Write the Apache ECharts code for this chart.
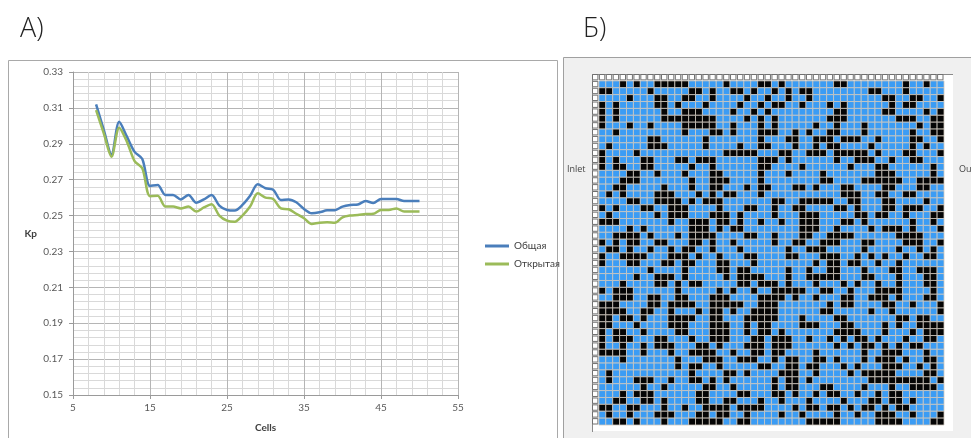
<!DOCTYPE html>
<html><head><meta charset="utf-8">
<script src="https://cdn.jsdelivr.net/npm/echarts@6/dist/echarts.min.js"></script>
<style>html,body{margin:0;padding:0;background:#fff}#c{width:971px;height:438px}</style>
</head><body><div id="c"></div><script>
// ---- Panel A data ----
const cells = [8,9,10,11,12,13,14,15,16,17,18,19,20,21,22,23,24,25,26,27,28,29,30,31,32,33,34,35,36,37,38,39,40,41,42,43,44,45,46,47,48,49,50];
const obshaya = [0.312,0.2977,0.284,0.3023,0.294,0.2855,0.2815,0.2665,0.267,0.2615,0.2615,0.259,0.2615,0.2572,0.259,0.2615,0.2555,0.2531,0.2528,0.2559,0.261,0.2674,0.2652,0.2644,0.2587,0.259,0.2574,0.2537,0.2513,0.2518,0.2529,0.253,0.255,0.2559,0.2562,0.2581,0.257,0.2592,0.2592,0.2592,0.2581,0.2581,0.2581];
const otkrytaya = [0.3088,0.2958,0.2828,0.299,0.2912,0.2804,0.2763,0.2608,0.261,0.255,0.255,0.254,0.255,0.2522,0.2545,0.2563,0.25,0.2472,0.2466,0.25,0.255,0.2624,0.26,0.2592,0.254,0.2535,0.251,0.2485,0.2453,0.246,0.2462,0.246,0.249,0.25,0.2503,0.2508,0.251,0.2531,0.2531,0.254,0.2522,0.2522,0.2522];
const seriesNames = ['Общая','Открытая'];

// ---- Panel B data: black cell columns per row (50 x 50 grid) ----
const blackCells = [
[3,5,8,9,10,11,12,18,23,24,26,34,35,44,47],
[0,1,7,13,14,16,19,20,22,25,27,29,30,39,40,44],
[4,8,9,12,13,16,21,24,27,30,41,42,45,46,49],
[0,2,8,9,11,15,20,23,25,26,29,33,35,42,44,45],
[0,2,9,12,13,14,19,22,24,34,35,41,42,47,49],
[0,2,9,10,11,12,13,14,15,16,21,23,25,33,34,35,43,44,45,48,49],
[0,4,7,12,13,14,15,16,19,23,25,31,34,38,46,48,49],
[2,12,16,17,19,23,24,25,28,30,33,34,38,45,48,49],
[7,8,15,23,27,28,31,32,33,35,36,37,40,45,46,49],
[1,7,8,9,15,20,23,24,28,31,33,34,39,45,47],
[0,5,18,19,20,21,22,26,27,30,31,32,34,35,36,37,38,40,44,45,49],
[0,2,6,7,11,12,14,15,16,23,24,25,27,34,37,38,39,42,45,46],
[0,2,3,6,7,13,16,23,24,29,36,40,41,48],
[4,5,8,12,16,17,23,27,32,40,41,42,48],
[3,4,5,13,16,17,18,23,32,33,38,39,40,41,42,43,46,47,48,49],
[2,3,9,13,16,17,21,23,24,28,29,31,35,36,41,42,46,47],
[1,3,8,9,10,14,16,18,19,23,35,36,37,40,41,44,45],
[4,5,8,9,10,11,13,15,16,17,25,26,29,30,31,32,33,36,37,41,42,47],
[0,2,6,7,10,11,12,17,21,22,25,28,29,34,35,37,41,42,44,45,46,49],
[1,8,10,11,12,16,17,18,20,25,29,30,31,37,38,40,41,44,48,49],
[0,1,2,10,13,14,15,17,18,20,23,26,29,30,31,35,36,38,45,48],
[4,6,13,14,15,17,19,20,29,30,31,34,39,41,42,43,45,49],
[2,3,4,5,7,11,13,14,15,16,21,22,25,29,30,33,34,35,36,43,44,45,46],
[0,2,4,5,8,9,13,14,16,19,25,28,29,32,33,34,38,39,44,45,46,49],
[1,2,4,7,10,12,13,16,20,27,30,31,32,38,43,46,48],
[0,3,4,5,6,10,11,12,14,17,21,22,27,28,32,33,34,37,39,41,44,47,48],
[0,4,5,9,10,12,13,17,18,22,31,33,34,36,37,40,43],
[7,12,17,18,20,21,27,30,33,34,38,42,43,46,47,48],
[5,8,9,10,12,18,20,21,22,23,27,30,31,32,33,34,38,39,43,47,48],
[3,8,9,11,13,14,20,21,23,24,25,27,31,35,37,40,43,47,48],
[0,2,3,4,11,17,19,22,25,26,27,28,29,32,33,36,40,41,42,43,48],
[2,3,4,7,8,11,12,16,17,18,23,24,25,26,28,31,35,36,39,40,41,43,47,48],
[0,1,2,7,8,10,11,12,13,16,17,18,19,20,23,24,25,33,35,36,41,42,45,49],
[0,1,2,3,6,7,10,14,16,17,19,22,23,24,25,32,33,39,42,49],
[0,1,3,4,6,10,11,12,13,16,17,21,22,23,24,25,29,34,35,43,44,46,47],
[0,1,5,10,11,12,16,17,18,21,23,24,29,30,31,35,36,41,43,46,47,48,49],
[0,2,3,6,11,12,16,17,18,21,23,24,26,34,35,36,37,41,45,47,48,49],
[0,2,3,4,8,9,13,16,17,18,22,23,25,26,27,30,33,35,37,38,40,44,47,48],
[0,3,6,8,9,10,14,15,17,21,22,23,25,26,27,34,36,38,39,41,43,45,46],
[0,1,2,3,6,10,13,14,15,16,19,22,23,25,26,31,38,41,42,43,47],
[3,11,15,16,17,20,21,22,25,27,28,31,32,34,38,40,41,42,44,47,48],
[11,13,14,17,23,24,27,28,30,31,35,37,41,42,43,46,48],
[1,13,18,19,21,26,27,28,31,36,38,39,40,41,42,47,48],
[1,5,6,7,10,13,14,16,18,25,27,28,30,39,40,41,42,43,44,45,46,47,49],
[6,9,15,16,19,25,27,28,32,33,38,42,45,46,47,48],
[3,5,6,7,14,15,20,21,25,26,28,31,33,34,37,40,42,43],
[2,3,6,7,9,14,15,18,19,23,26,30,35,39,40,42,43,45],
[0,1,4,5,9,12,15,16,17,18,20,21,22,23,28,30,31,33,34,36,38,39,41,43,44],
[1,4,8,9,10,14,15,17,18,21,26,29,34,37,40,41,42,45,49],
[2,3,5,9,13,14,15,16,17,20,21,30,31,32,33,34,40,41,42,43,48,49]
];
const gridSize = 50;

// build cell list: value 0 = open (blue), 1 = solid (black), 2 = header box
const cellData = [];
for (let c = -1; c < gridSize; c++) cellData.push([c, -1, 2]);
for (let r = 0; r < gridSize; r++) {
  cellData.push([-1, r, 2]);
  const set = new Set(blackCells[r]);
  for (let c = 0; c < gridSize; c++) cellData.push([c, r, set.has(c) ? 1 : 0]);
}

const chart = echarts.init(document.getElementById('c'), null, {renderer: 'canvas'});
const font = 'Lato, "Open Sans", sans-serif';
chart.setOption({
  animation: false,
  backgroundColor: '#ffffff',
  textStyle: {fontFamily: font},
  graphic: [
    {type: 'rect', z: 0, shape: {x: 8.5, y: 60.5, width: 549, height: 400}, style: {fill: '#fff', stroke: '#a9a9a9', lineWidth: 1}},
    {type: 'rect', z: 0, shape: {x: 563.5, y: 57.5, width: 420, height: 400}, style: {fill: '#f0f0f0', stroke: '#a0a0a0', lineWidth: 1}},
    {type: 'rect', z: 1, shape: {x: 592, y: 74, width: 361, height: 357}, style: {fill: '#ffffff'}},
    {type: 'line', z: 1, shape: {x1: 592, y1: 74.5, x2: 953, y2: 74.5}, style: {stroke: '#8a8a8a', lineWidth: 1}},
    {type: 'line', z: 1, shape: {x1: 592.5, y1: 74, x2: 592.5, y2: 432}, style: {stroke: '#8a8a8a', lineWidth: 1}},
    {type: 'text', z: 3, left: 20, top: 16, style: {text: 'А)', font: '300 27px "Open Sans", sans-serif', fill: '#222'}},
    {type: 'text', z: 3, left: 583, top: 16, style: {text: 'Б)', font: '300 27px "Open Sans", sans-serif', fill: '#222'}},
    {type: 'text', z: 3, left: 567, top: 165, style: {text: 'Inlet', font: '9px "Open Sans", sans-serif', fill: '#444'}},
    {type: 'text', z: 3, left: 959, top: 165, style: {text: 'Outlet', font: '9px "Open Sans", sans-serif', fill: '#444'}}
  ],
  legend: {
    data: seriesNames,
    orient: 'vertical',
    left: 480, top: 236,
    itemWidth: 24, itemHeight: 3, itemGap: 8,
    icon: 'rect',
    textStyle: {fontSize: 10, color: '#404040', fontFamily: font}
  },
  grid: [
    {left: 73, right: 513, top: 72, bottom: 43},
    {left: 592, top: 74, width: 352, height: 351}
  ],
  xAxis: [
    {
      type: 'value', gridIndex: 0, min: 5, max: 55, interval: 10,
      name: 'Cells', nameLocation: 'middle', nameGap: 28,
      nameTextStyle: {fontWeight: 'bold', fontSize: 10, color: '#404040'},
      axisLine: {show: true, lineStyle: {color: '#9a9a9a'}},
      axisTick: {show: true, length: 4, lineStyle: {color: '#9a9a9a'}},
      axisLabel: {fontSize: 10, color: '#595959', margin: 8},
      splitLine: {show: true, lineStyle: {color: '#b5b5b5'}},
      minorTick: {show: false, splitNumber: 5},
      minorSplitLine: {show: true, lineStyle: {color: '#d9d9d9'}}
    },
    {type: 'value', gridIndex: 1, min: -1.5, max: 49.5, show: false}
  ],
  yAxis: [
    {
      type: 'value', gridIndex: 0, min: 0.15, max: 0.33, interval: 0.02,
      name: 'Kp', nameLocation: 'middle', nameGap: 36, nameRotate: 0,
      nameTextStyle: {fontWeight: 'bold', fontSize: 10, color: '#404040'},
      axisLine: {show: true, lineStyle: {color: '#9a9a9a'}},
      axisTick: {show: true, length: 4, lineStyle: {color: '#9a9a9a'}},
      axisLabel: {fontSize: 10, color: '#595959', margin: 10, formatter: v => v.toFixed(2)},
      splitLine: {show: true, lineStyle: {color: '#b5b5b5'}},
      minorTick: {show: false, splitNumber: 5},
      minorSplitLine: {show: true, lineStyle: {color: '#d9d9d9'}}
    },
    {type: 'value', gridIndex: 1, min: -1.5, max: 49.5, inverse: true, show: false}
  ],
  series: [
    {
      name: seriesNames[0], type: 'line', xAxisIndex: 0, yAxisIndex: 0,
      data: cells.map((c, i) => [c, obshaya[i]]),
      smooth: 0.3, showSymbol: false, symbol: 'none',
      itemStyle: {color: '#4a7ebb'},
      lineStyle: {color: '#4a7ebb', width: 2.5}
    },
    {
      name: seriesNames[1], type: 'line', xAxisIndex: 0, yAxisIndex: 0,
      data: cells.map((c, i) => [c, otkrytaya[i]]),
      smooth: 0.3, showSymbol: false, symbol: 'none',
      itemStyle: {color: '#9bbb59'},
      lineStyle: {color: '#9bbb59', width: 2.5}
    },
    {
      type: 'custom', xAxisIndex: 1, yAxisIndex: 1, z: 5,
      data: cellData,
      renderItem: function (params, api) {
        const v = api.value(2);
        const p = api.coord([api.value(0), api.value(1)]);
        const s = api.size([1, 1]);
        if (v === 2) {
          return {type: 'rect', shape: {x: p[0] - s[0] / 2 + 0.5, y: p[1] - s[1] / 2 + 0.5, width: s[0] - 1.5, height: s[1] - 1.5},
                  style: {fill: '#ffffff', stroke: '#707070', lineWidth: 1}};
        }
        return {type: 'rect', shape: {x: p[0] - s[0] / 2, y: p[1] - s[1] / 2, width: s[0], height: s[1]},
                style: {fill: v === 1 ? '#050505' : '#3b9cf4', stroke: '#cfc8be', lineWidth: 0.8}};
      }
    }
  ]
});
</script></body></html>
